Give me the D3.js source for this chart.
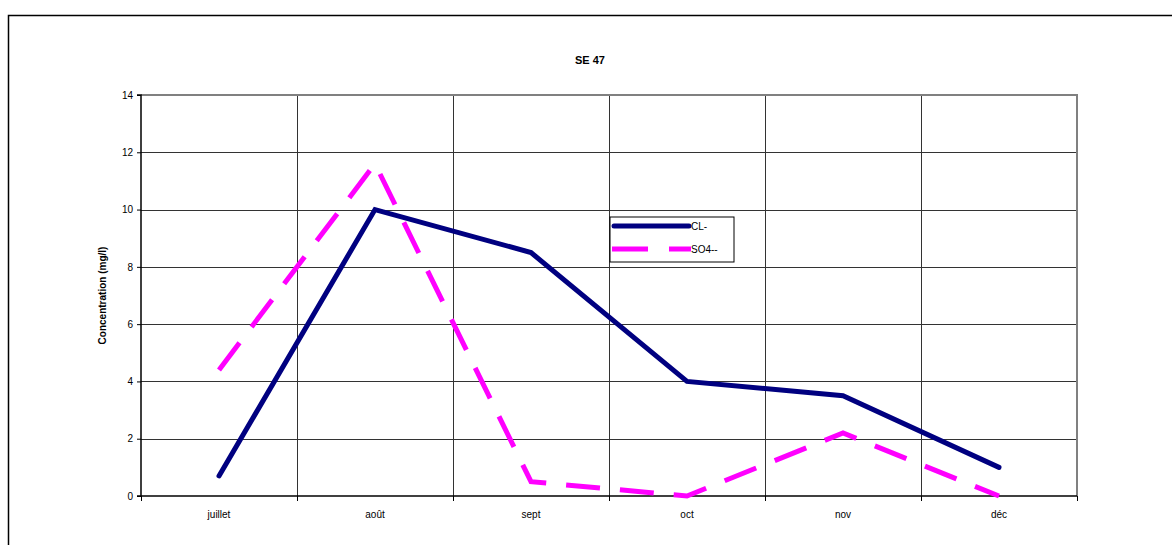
<!DOCTYPE html>
<html><head><meta charset="utf-8">
<script src="https://cdn.jsdelivr.net/npm/d3@7"></script>
<style>body{margin:0;background:#fff}svg{display:block;font-family:"Liberation Sans",Arial,sans-serif}</style>
</head><body>
<svg id="c" width="1172" height="545"></svg>
<script>
const categories = ["juillet","août","sept","oct","nov","déc"];
const clValues = [0.7, 10, 8.5, 4, 3.5, 1];
const so4Values = [4.4, 11.6, 0.5, 0, 2.2, 0];
const yTicks = [0,2,4,6,8,10,12,14];
const seriesNames = ["CL-","SO4--"];

const svg = d3.select("#c");
const L=141, R=1077, T=95, B=496;
svg.append("rect").attr("x",8.5).attr("y",15.5).attr("width",1180).attr("height",560)
  .attr("fill","none").attr("stroke","#000").attr("stroke-width",1.5);

const x = d3.scaleBand().domain(categories).range([L,R]);
const y = d3.scaleLinear().domain([0,14]).range([B,T]);

// horizontal grid
svg.append("g").selectAll("line").data(yTicks.slice(1,-1)).join("line")
  .attr("x1",L).attr("x2",R).attr("y1",d=>Math.round(y(d))+0.5).attr("y2",d=>Math.round(y(d))+0.5)
  .attr("stroke","#333").attr("stroke-width",1);
// vertical grid
svg.append("g").selectAll("line").data(categories.slice(1)).join("line")
  .attr("x1",d=>Math.round(x(d))+0.5).attr("x2",d=>Math.round(x(d))+0.5).attr("y1",T).attr("y2",B)
  .attr("stroke","#333").attr("stroke-width",1);
// plot frame top/right
svg.append("path").attr("d",`M${L},${T}H${R}V${B}`).attr("fill","none").attr("stroke","#808080").attr("stroke-width",2);

// y axis
const ya = svg.append("g").attr("transform",`translate(${L},0)`)
  .call(d3.axisLeft(y).tickValues(yTicks).tickSize(4).tickPadding(4).tickFormat(d3.format("d")));
ya.select(".domain").attr("stroke","#000").attr("stroke-width",1.5).attr("d",`M-4,${T}H0V${B}H-4`);
ya.selectAll(".tick line").attr("stroke","#000");
ya.selectAll("text").attr("font-size",10).attr("fill","#000").attr("font-family","Liberation Sans, Arial, sans-serif");

// x axis
const xa = svg.append("g").attr("transform",`translate(0,${B})`)
  .call(d3.axisBottom(x).tickSize(0).tickPadding(15));
xa.select(".domain").remove();
xa.selectAll("text").attr("font-size",10).attr("fill","#000").attr("font-family","Liberation Sans, Arial, sans-serif");
svg.append("line").attr("x1",L).attr("x2",R).attr("y1",B).attr("y2",B).attr("stroke","#000").attr("stroke-width",1.5);
svg.append("g").selectAll("line").data([...categories.map(c=>x(c)), R]).join("line")
  .attr("x1",d=>Math.round(d)+0.5).attr("x2",d=>Math.round(d)+0.5).attr("y1",B).attr("y2",B+5).attr("stroke","#000");

// title & axis label
svg.append("text").attr("x",590).attr("y",64).attr("text-anchor","middle").attr("font-weight","bold").attr("font-size",11).text("SE 47");
svg.append("text").attr("transform",`translate(106,${(T+B)/2}) rotate(-90)`).attr("text-anchor","middle")
  .attr("font-weight","bold").attr("font-size",10).text("Concentration (mg/l)");

const line = d3.line().x((d,i)=>x(categories[i])+x.bandwidth()/2).y(d=>y(d));
svg.append("path").datum(so4Values).attr("d",line).attr("fill","none").attr("stroke","#FF00FF")
  .attr("stroke-width",5).attr("stroke-dasharray","34,20");
svg.append("path").datum(clValues).attr("d",line).attr("fill","none").attr("stroke","#000080")
  .attr("stroke-width",5).attr("stroke-linejoin","miter").attr("stroke-linecap","round");

// legend
const lg = svg.append("g");
lg.append("rect").attr("x",610).attr("y",217).attr("width",124).attr("height",45).attr("fill","#fff").attr("stroke","#000").attr("stroke-width",1);
lg.append("line").attr("x1",614).attr("x2",689).attr("y1",226).attr("y2",226).attr("stroke","#000080").attr("stroke-width",5).attr("stroke-linecap","round");
lg.append("line").attr("x1",612).attr("x2",691).attr("y1",249).attr("y2",249).attr("stroke","#FF00FF").attr("stroke-width",5).attr("stroke-dasharray","36,21");
lg.append("text").attr("x",691).attr("y",230).attr("font-size",10).text(seriesNames[0]);
lg.append("text").attr("x",691).attr("y",253).attr("font-size",10).text(seriesNames[1]);
</script>
</body></html>
